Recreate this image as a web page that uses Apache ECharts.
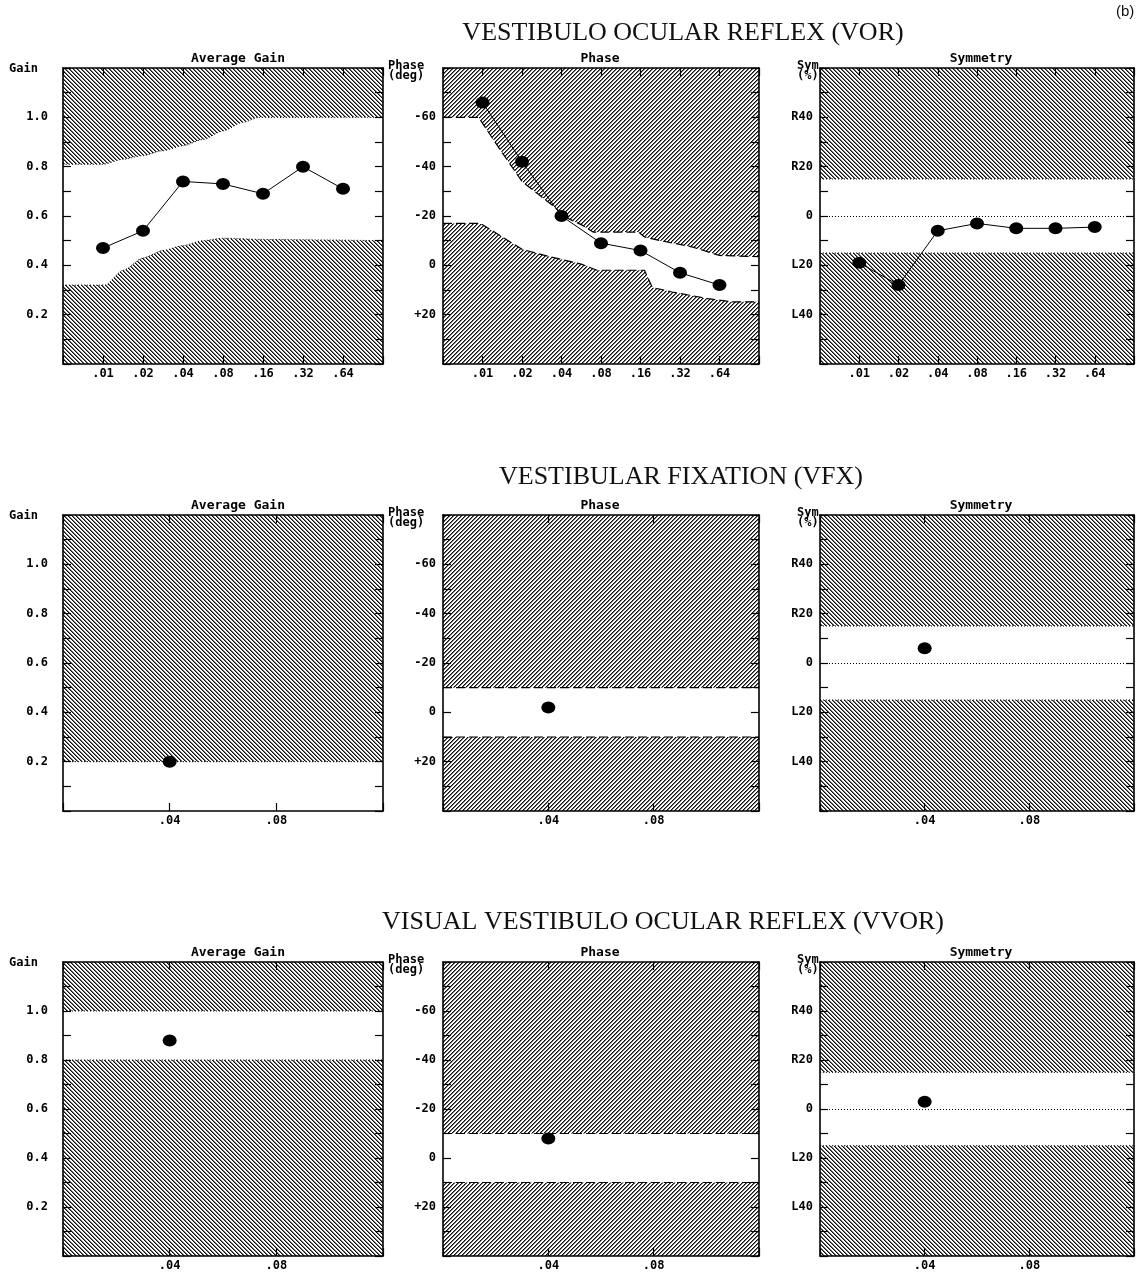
<!DOCTYPE html>
<html>
<head>
<meta charset="utf-8">
<script src="https://cdn.jsdelivr.net/npm/echarts@6/dist/echarts.min.js"></script>
<style>
  html, body { margin: 0; padding: 0; background: #fff; }
  #chart { width: 1137px; height: 1272px; }
</style>
</head>
<body>
<div id="chart"></div>
<script>
// ---- frequency categories (Hz) ----
const vorFreqLabels = ['.01', '.02', '.04', '.08', '.16', '.32', '.64'];
const singleFreqLabels = ['.04', '.08'];

// ---- measured responses ----
const vorGain = [0.47, 0.54, 0.74, 0.73, 0.69, 0.80, 0.71];
const vorPhase = [-66, -42, -20, -9, -6, 3, 8];
const vorSymmetry = [-19, -28, -6, -3, -5, -5, -4.5];

const vfxGain = [0.20];
const vfxPhase = [-2];
const vfxSymmetry = [6];

const vvorGain = [0.88];
const vvorPhase = [-8];
const vvorSymmetry = [3];

// ---- normal limits; x is the octave position on the frequency axis ----
const vorGainUpper = [[0, 0.81], [1, 0.81], [1.5, 0.83], [2, 0.845], [2.5, 0.865], [3, 0.885], [3.5, 0.91], [4, 0.945], [4.5, 0.98], [4.9, 1.0], [8, 1.0]];
const vorGainLower = [[0, 0.32], [1.05, 0.32], [1.5, 0.38], [2, 0.43], [2.5, 0.46], [3, 0.48], [3.5, 0.5], [4, 0.51], [5, 0.505], [8, 0.5]];
const vorPhaseUpper = [[0, -60], [0.9, -60], [1.4, -48], [2.0, -34], [2.4, -29], [2.8, -24], [3.1, -19.5], [3.5, -16.5], [3.8, -13.5], [4.95, -13.5], [5.1, -11.5], [5.5, -10], [6.3, -7.5], [7.0, -4], [8, -3.5]];
const vorPhaseLower = [[0, -17], [0.95, -17], [1.4, -12.5], [2.0, -6.5], [2.7, -3.5], [3.5, -0.5], [3.9, 2], [5.1, 2], [5.3, 9], [5.8, 10.8], [6.7, 13.5], [7.3, 14.8], [8, 14.8]];
const vorSymUpper = [[0, 15], [8, 15]];
const vorSymLower = [[0, -15], [8, -15]];

const vfxGainUpper = [[0, 0.2], [3, 0.2]];
const vfxPhaseUpper = [[0, -10], [3, -10]];
const vfxPhaseLower = [[0, 10], [3, 10]];
const vfxSymUpper = [[0, 15], [3, 15]];
const vfxSymLower = [[0, -15], [3, -15]];

const vvorGainUpper = [[0, 1.0], [3, 1.0]];
const vvorGainLower = [[0, 0.8], [3, 0.8]];
const vvorPhaseUpper = [[0, -10], [3, -10]];
const vvorPhaseLower = [[0, 10], [3, 10]];
const vvorSymUpper = [[0, 15], [3, 15]];
const vvorSymLower = [[0, -15], [3, -15]];

// ---- axis tick labels ----
const gainTicks = [0.2, 0.4, 0.6, 0.8, 1.0];
const phaseTicks = [-60, -40, -20, 0, 20];
const symTicks = [40, 20, 0, -20, -40];

const rowTitles = ['VESTIBULO OCULAR REFLEX (VOR)', 'VESTIBULAR FIXATION (VFX)', 'VISUAL VESTIBULO OCULAR REFLEX (VVOR)'];
const panelTitles = ['Average Gain', 'Phase', 'Symmetry'];
const axisNames = ['Gain', 'Phase\n(deg)', 'Sym\n(%)'];

// ---- hatch fills ----
function hatch(dir) {
  const n = 4;
  const c = document.createElement('canvas');
  c.width = n; c.height = n;
  const ctx = c.getContext('2d');
  const img = ctx.createImageData(n, n);
  for (let y = 0; y < n; y++) {
    for (let x = 0; x < n; x++) {
      const k = dir === 'back' ? ((x - y) % n + n) % n : (x + y) % n;
      const i = (y * n + x) * 4;
      img.data[i] = 15; img.data[i + 1] = 15; img.data[i + 2] = 15;
      img.data[i + 3] = k === 0 ? 255 : (k === 1 ? 150 : 0);
    }
  }
  ctx.putImageData(img, 0, 0);
  return { image: c, repeat: 'repeat' };
}
const HATCH_BACK = hatch('back');
const HATCH_FWD = hatch('fwd');

const MONO = '"DejaVu Sans Mono", monospace';

const kinds = {
  gain: {
    min: 0, max: 1.2, interval: 0.1, inverse: false,
    labels: gainTicks, fmt: v => v.toFixed(1), labelMargin: 15,
    upperOrigin: 'end', lowerOrigin: 'start', fill: HATCH_BACK,
    edge: { type: [1, 2], width: 1, color: '#000' }, zero: false
  },
  phase: {
    min: -80, max: 40, interval: 10, inverse: true,
    labels: phaseTicks, fmt: v => (v > 0 ? '+' + v : String(v)), labelMargin: 7,
    upperOrigin: 'start', lowerOrigin: 'end', fill: HATCH_FWD,
    edge: { type: [9, 4], width: 1.2, color: '#000' }, zero: false
  },
  sym: {
    min: -60, max: 60, interval: 10, inverse: false,
    labels: symTicks, fmt: v => (v > 0 ? 'R' + v : v < 0 ? 'L' + (-v) : '0'), labelMargin: 7,
    upperOrigin: 'end', lowerOrigin: 'start', fill: HATCH_BACK,
    edge: { type: [1, 2], width: 1, color: '#000' }, zero: true
  }
};

const panels = [
  { row: 0, col: 0, kind: 'gain', span: 8, freqs: vorFreqLabels, values: vorGain, upper: vorGainUpper, lower: vorGainLower, smooth: 0.25 },
  { row: 0, col: 1, kind: 'phase', span: 8, freqs: vorFreqLabels, values: vorPhase, upper: vorPhaseUpper, lower: vorPhaseLower, smooth: false },
  { row: 0, col: 2, kind: 'sym', span: 8, freqs: vorFreqLabels, values: vorSymmetry, upper: vorSymUpper, lower: vorSymLower, smooth: false },
  { row: 1, col: 0, kind: 'gain', span: 3, freqs: singleFreqLabels, values: vfxGain, upper: vfxGainUpper, lower: null, smooth: false },
  { row: 1, col: 1, kind: 'phase', span: 3, freqs: singleFreqLabels, values: vfxPhase, upper: vfxPhaseUpper, lower: vfxPhaseLower, smooth: false },
  { row: 1, col: 2, kind: 'sym', span: 3, freqs: singleFreqLabels, values: vfxSymmetry, upper: vfxSymUpper, lower: vfxSymLower, smooth: false },
  { row: 2, col: 0, kind: 'gain', span: 3, freqs: singleFreqLabels, values: vvorGain, upper: vvorGainUpper, lower: vvorGainLower, smooth: false },
  { row: 2, col: 1, kind: 'phase', span: 3, freqs: singleFreqLabels, values: vvorPhase, upper: vvorPhaseUpper, lower: vvorPhaseLower, smooth: false },
  { row: 2, col: 2, kind: 'sym', span: 3, freqs: singleFreqLabels, values: vvorSymmetry, upper: vvorSymUpper, lower: vvorSymLower, smooth: false }
];

// layout of the 3 x 3 panel matrix
const colLeft = [63, 443, 820];
const colWidth = [320, 316, 314];
const rowTop = [68, 515, 962];
const rowHeight = [296, 296, 294];
const rowTitleCenter = [683, 681, 663];
const rowTitleTop = [20, 464, 909];
const panelTitleCenter = [238, 600, 981];
const nameLeft = [9, 388, 797];

const grids = [], xAxes = [], yAxes = [], series = [], titles = [];

panels.forEach((p, i) => {
  const k = kinds[p.kind];
  grids.push({ left: colLeft[p.col], top: rowTop[p.row], width: colWidth[p.col], height: rowHeight[p.row], containLabel: false });

  const line = { show: true, onZero: false, lineStyle: { color: '#000', width: 1.6 } };
  const tick = { show: true, inside: true, length: 8, lineStyle: { color: '#000', width: 1.2 } };
  const xBase = { type: 'value', gridIndex: i, min: 0, max: p.span, interval: 1, z: 3, axisLine: line, axisTick: tick, splitLine: { show: false } };
  xAxes.push(Object.assign({}, xBase, {
    position: 'bottom',
    axisLabel: {
      show: true, margin: 4, color: '#000', fontFamily: MONO, fontWeight: 'bold', fontSize: 12,
      formatter: v => (v >= 1 && v <= p.freqs.length ? p.freqs[v - 1] : '')
    }
  }));
  xAxes.push(Object.assign({}, xBase, { position: 'top', axisLabel: { show: false } }));

  const yBase = { type: 'value', gridIndex: i, min: k.min, max: k.max, interval: k.interval, inverse: k.inverse, z: 3, axisLine: line, axisTick: tick, splitLine: { show: false } };
  yAxes.push(Object.assign({}, yBase, {
    position: 'left',
    axisLabel: {
      show: true, margin: k.labelMargin, color: '#000', fontFamily: MONO, fontWeight: 'bold', fontSize: 12,
      formatter: v => (k.labels.some(t => Math.abs(t - v) < 1e-6) ? k.fmt(v) : '')
    }
  }));
  yAxes.push(Object.assign({}, yBase, { position: 'right', axisLabel: { show: false } }));

  const xi = i * 2, yi = i * 2;
  const band = (data, origin) => ({
    type: 'line', xAxisIndex: xi, yAxisIndex: yi, data: data, silent: true, z: 1,
    showSymbol: false, symbol: 'none', smooth: p.smooth, smoothMonotone: 'x',
    lineStyle: k.edge, areaStyle: { color: k.fill, opacity: 1, origin: origin }
  });
  if (p.upper) series.push(band(p.upper, k.upperOrigin));
  if (p.lower) series.push(band(p.lower, k.lowerOrigin));

  // measured responses: connecting line, then solid dots, on their own layer above the hatching
  const pts = p.values.map((v, j) => [j + 1, v]);
  const trace = {
    type: 'line', xAxisIndex: xi, yAxisIndex: yi, zlevel: 1, z: 4, silent: true,
    data: pts, symbol: 'none', showSymbol: false,
    lineStyle: { color: '#000', width: 1 }
  };
  if (k.zero) {
    trace.markLine = {
      silent: true, symbol: 'none', label: { show: false },
      lineStyle: { type: [1, 2], width: 1, color: '#000' },
      data: [{ yAxis: 0 }]
    };
  }
  series.push(trace);
  series.push({
    type: 'scatter', xAxisIndex: xi, yAxisIndex: yi, zlevel: 1, z: 6, silent: true,
    data: pts, symbol: 'circle', symbolSize: [14, 12],
    itemStyle: { color: '#000', opacity: 1, borderWidth: 0 }
  });

  titles.push({
    text: panelTitles[p.col], left: panelTitleCenter[p.col], top: rowTop[p.row] - 16, textAlign: 'center', padding: 0,
    textStyle: { fontFamily: MONO, fontWeight: 'bold', fontSize: 13, color: '#000' }
  });
  titles.push({
    text: axisNames[p.col], left: nameLeft[p.col], top: rowTop[p.row] - (p.col === 0 ? 4 : 7), padding: 0,
    textStyle: { fontFamily: MONO, fontWeight: 'bold', fontSize: 12, lineHeight: 10, color: '#000' }
  });
});

rowTitles.forEach((t, r) => {
  titles.push({
    text: t, left: rowTitleCenter[r], top: rowTitleTop[r], textAlign: 'center', padding: 0,
    textStyle: { fontFamily: '"Liberation Serif", serif', fontWeight: 'normal', fontSize: 26, color: '#111' }
  });
});
titles.push({
  text: '(b)', left: 1116, top: 4, padding: 0,
  textStyle: { fontFamily: '"Liberation Sans", sans-serif', fontWeight: 'normal', fontSize: 15, color: '#111' }
});

const chart = echarts.init(document.getElementById('chart'), null, { renderer: 'canvas' });
chart.setOption({
  animation: false,
  backgroundColor: '#fff',
  title: titles,
  grid: grids,
  xAxis: xAxes,
  yAxis: yAxes,
  series: series
});
</script>
</body>
</html>
